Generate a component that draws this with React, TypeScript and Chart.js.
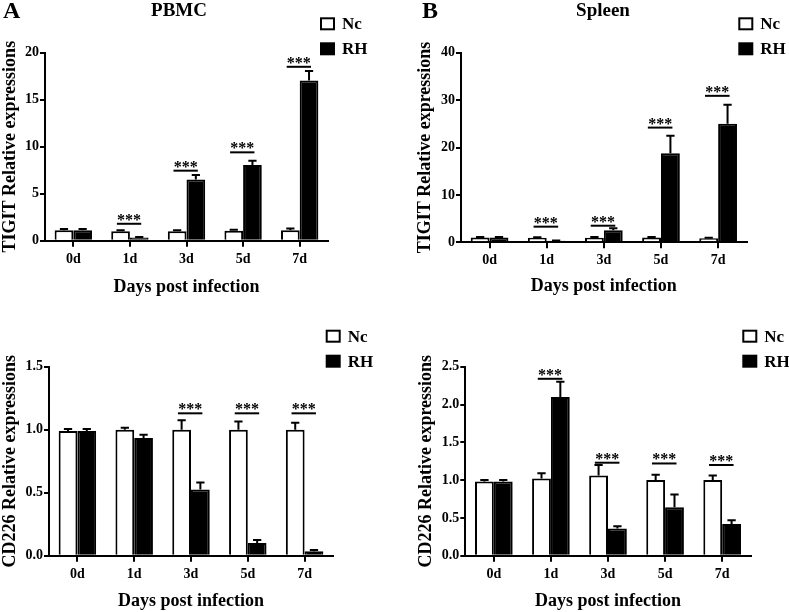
import React, { useEffect, useRef } from "react";
import { Chart, registerables } from "chart.js";

Chart.register(...registerables);

const categories = ["0d", "1d", "3d", "5d", "7d"];
const seriesNames = ["Nc", "RH"];

// Panel A: PBMC TIGIT
const pbmcTigitNc = [1.1, 1.0, 1.0, 1.05, 1.1];
const pbmcTigitNcErr = [0.15, 0.1, 0.1, 0.12, 0.2];
const pbmcTigitRh = [1.1, 0.35, 6.5, 8.05, 17.05];
const pbmcTigitRhErr = [0.15, 0.05, 0.5, 0.45, 1.0];
const pbmcTigitSig = [null, 1.8, 7.45, 9.4, 18.5];
const pbmcTigitTicks = [0, 5, 10, 15, 20];

// Panel B: Spleen TIGIT
const spleenTigitNc = [1.0, 0.95, 0.95, 1.0, 0.85];
const spleenTigitNcErr = [0.1, 0.1, 0.15, 0.1, 0.1];
const spleenTigitRh = [1.0, 0.35, 2.55, 18.8, 25.0];
const spleenTigitRhErr = [0.1, 0.05, 0.4, 3.7, 4.0];
const spleenTigitSig = [null, 3.3, 3.5, 24.2, 30.9];
const spleenTigitTicks = [0, 10, 20, 30, 40];

// Panel C: PBMC CD226
const pbmcCd226Nc = [0.99, 1.0, 1.0, 1.0, 1.0];
const pbmcCd226NcErr = [0.015, 0.015, 0.075, 0.065, 0.055];
const pbmcCd226Rh = [0.99, 0.935, 0.525, 0.1, 0.035];
const pbmcCd226RhErr = [0.015, 0.025, 0.055, 0.025, 0.01];
const pbmcCd226Sig = [null, null, 1.13, 1.13, 1.13];
const pbmcCd226Ticks = [0, 0.5, 1.0, 1.5];

// Panel D: Spleen CD226
const spleenCd226Nc = [0.98, 1.02, 1.06, 1.0, 1.0];
const spleenCd226NcErr = [0.02, 0.07, 0.14, 0.07, 0.06];
const spleenCd226Rh = [0.98, 2.1, 0.36, 0.64, 0.42];
const spleenCd226RhErr = [0.02, 0.2, 0.03, 0.17, 0.05];
const spleenCd226Sig = [null, 2.34, 1.23, 1.22, 1.2];
const spleenCd226Ticks = [0, 0.5, 1.0, 1.5, 2.0, 2.5];

const FONT = "'Liberation Serif', 'Times New Roman', serif";

type PanelDef = {
  left: number; top: number; w: number; h: number;
  area: { l: number; r: number; t: number; b: number };
  padLeft: number; xTitleY: number;
  letter: string; letterX: number; title: string; titleX: number;
  legendX: number; legendY: number;
  yTitle: string; ticks: number[]; decimals: number;
  nc: number[]; ncErr: number[]; rh: number[]; rhErr: number[]; sig: (number | null)[];
};

const panels: PanelDef[] = [
  {
    left: 0, top: 0, w: 390, h: 300, area: { l: 45, r: 328, t: 52.7, b: 240.7 }, padLeft: 0, xTitleY: 287,
    letter: "A", letterX: 3, title: "PBMC", titleX: 179, legendX: 321, legendY: 18.3,
    yTitle: "TIGIT Relative expressions", ticks: pbmcTigitTicks, decimals: 0,
    nc: pbmcTigitNc, ncErr: pbmcTigitNcErr, rh: pbmcTigitRh, rhErr: pbmcTigitRhErr, sig: pbmcTigitSig,
  },
  {
    left: 390, top: 0, w: 399, h: 300, area: { l: 71, r: 356.7, t: 52.7, b: 242.3 }, padLeft: 24.7, xTitleY: 286.7,
    letter: "B", letterX: 32, title: "Spleen", titleX: 213, legendX: 349.3, legendY: 18.3,
    yTitle: "TIGIT Relative expressions", ticks: spleenTigitTicks, decimals: 0,
    nc: spleenTigitNc, ncErr: spleenTigitNcErr, rh: spleenTigitRh, rhErr: spleenTigitRhErr, sig: spleenTigitSig,
  },
  {
    left: 0, top: 300, w: 390, h: 312, area: { l: 49, r: 333, t: 66.7, b: 255.7 }, padLeft: 0, xTitleY: 301.5,
    letter: "", letterX: 0, title: "", titleX: 0, legendX: 326.7, legendY: 30.7,
    yTitle: "CD226 Relative expressions", ticks: pbmcCd226Ticks, decimals: 1,
    nc: pbmcCd226Nc, ncErr: pbmcCd226NcErr, rh: pbmcCd226Rh, rhErr: pbmcCd226RhErr, sig: pbmcCd226Sig,
  },
  {
    left: 390, top: 300, w: 399, h: 312, area: { l: 75.3, r: 360.7, t: 66.7, b: 255.7 }, padLeft: 25.9, xTitleY: 301.5,
    letter: "", letterX: 0, title: "", titleX: 0, legendX: 353.3, legendY: 30.7,
    yTitle: "CD226 Relative expressions", ticks: spleenCd226Ticks, decimals: 1,
    nc: spleenCd226Nc, ncErr: spleenCd226NcErr, rh: spleenCd226Rh, rhErr: spleenCd226RhErr, sig: spleenCd226Sig,
  },
];

const annotPlugin = {
  id: "annot",
  afterDatasetsDraw(chart: any, _args: any, opts: any) {
    const p: PanelDef = opts.panel;
    const ctx = chart.ctx;
    const y = chart.scales.y;
    const x = chart.scales.x;
    ctx.save();
    ctx.strokeStyle = "#000";
    ctx.lineWidth = 2;
    chart.data.datasets.forEach((ds: any, di: number) => {
      const meta = chart.getDatasetMeta(di);
      meta.data.forEach((bar: any, i: number) => {
        const v = ds.data[i];
        const e = ds.errors[i];
        const yTop = y.getPixelForValue(v);
        const yE = y.getPixelForValue(v + e);
        const cap = bar.width * 0.22;
        ctx.beginPath();
        ctx.moveTo(bar.x, yTop);
        ctx.lineTo(bar.x, yE);
        ctx.moveTo(bar.x - cap, yE);
        ctx.lineTo(bar.x + cap, yE);
        ctx.stroke();
      });
    });
    const step = x.getPixelForValue(1) - x.getPixelForValue(0);
    ctx.lineWidth = 2;
    ctx.fillStyle = "#000";
    ctx.font = `bold 16px ${FONT}`;
    ctx.textAlign = "center";
    ctx.textBaseline = "alphabetic";
    p.sig.forEach((s, i) => {
      if (s == null) return;
      const cx = x.getPixelForValue(i);
      const yy = y.getPixelForValue(s);
      ctx.beginPath();
      ctx.moveTo(cx - step * 0.23, yy);
      ctx.lineTo(cx + step * 0.2, yy);
      ctx.stroke();
      ctx.fillText("***", cx - step * 0.015, yy + 1);
    });
    ctx.restore();
  },
  afterDraw(chart: any, _args: any, opts: any) {
    const p: PanelDef = opts.panel;
    const ctx = chart.ctx;
    ctx.save();
    ctx.fillStyle = "#000";
    ctx.textBaseline = "alphabetic";
    if (p.letter) {
      ctx.font = `bold 24px ${FONT}`;
      ctx.textAlign = "left";
      ctx.fillText(p.letter, p.letterX, 18.3);
    }
    if (p.title) {
      ctx.font = `bold 19px ${FONT}`;
      ctx.textAlign = "center";
      ctx.fillText(p.title, p.titleX, 16);
    }
    // legend
    ctx.lineWidth = 2;
    ctx.strokeStyle = "#000";
    ctx.font = `bold 17px ${FONT}`;
    ctx.textAlign = "left";
    ctx.textBaseline = "middle";
    seriesNames.forEach((name, i) => {
      const bx = p.legendX;
      const by = p.legendY + i * 25;
      ctx.fillStyle = i === 0 ? "#fff" : "#000";
      ctx.fillRect(bx, by, 13, 11);
      ctx.strokeRect(bx, by, 13, 11);
      ctx.fillStyle = "#000";
      ctx.fillText(name, bx + 21, by + 6.5);
    });
    ctx.restore();
  },
};

function PanelChart({ p }: { p: PanelDef }) {
  const ref = useRef<HTMLCanvasElement | null>(null);
  useEffect(() => {
    if (!ref.current) return;
    const padBottom = Math.max(0, p.h - (p.xTitleY + 10.8));
    const tickFont = { family: FONT, size: 14, weight: "bold" as const };
    const titleFont = { family: FONT, size: 18, weight: "bold" as const };
    const chart = new Chart(ref.current, {
      type: "bar",
      data: {
        labels: categories,
        datasets: [
          {
            label: seriesNames[0], data: p.nc, errors: p.ncErr,
            backgroundColor: "#fff", borderColor: "#000", borderWidth: 2,
            categoryPercentage: 0.66, barPercentage: 1.0,
          } as any,
          {
            label: seriesNames[1], data: p.rh, errors: p.rhErr,
            backgroundColor: "#000", borderColor: "#000", borderWidth: 2,
            categoryPercentage: 0.66, barPercentage: 1.0,
          } as any,
        ],
      },
      options: {
        responsive: false,
        animation: false,
        devicePixelRatio: 1,
        layout: {
          padding: { left: p.padLeft, top: p.area.t, right: p.w - p.area.r, bottom: padBottom },
        },
        plugins: {
          legend: { display: false },
          tooltip: { enabled: false },
          annot: { panel: p },
        } as any,
        scales: {
          x: {
            offset: true,
            grid: { display: true, drawOnChartArea: false, drawTicks: true, tickLength: 6, color: "#000", lineWidth: 2, offset: false },
            border: { display: true, color: "#000", width: 2 },
            ticks: { color: "#000", font: tickFont, padding: 4, maxRotation: 0 },
            title: { display: true, text: "Days post infection", color: "#000", font: titleFont, padding: 0 },
            afterFit: (scale: any) => { scale.height = p.h - padBottom - p.area.b; },
          },
          y: {
            min: p.ticks[0],
            max: p.ticks[p.ticks.length - 1],
            afterBuildTicks: (scale: any) => { scale.ticks = p.ticks.map((v) => ({ value: v })); },
            grid: { display: true, drawOnChartArea: false, drawTicks: true, tickLength: 5, color: "#000", lineWidth: 2 },
            border: { display: true, color: "#000", width: 2 },
            ticks: {
              color: "#000", font: tickFont, padding: 1,
              callback: (v: any) => Number(v).toFixed(p.decimals),
            },
            title: { display: true, text: p.yTitle, color: "#000", font: titleFont, padding: 0 },
            afterFit: (scale: any) => { scale.width = p.area.l - p.padLeft; },
          },
        },
      },
      plugins: [annotPlugin],
    });
    return () => chart.destroy();
  }, [p]);
  return (
    <div style={{ position: "absolute", left: p.left, top: p.top, width: p.w, height: p.h }}>
      <canvas ref={ref} width={p.w} height={p.h} style={{ width: p.w, height: p.h, display: "block" }} />
    </div>
  );
}

export default function App() {
  return (
    <div style={{ position: "fixed", left: 0, top: 0, width: 789, height: 612, background: "#fff", overflow: "hidden" }}>
      {panels.map((p, i) => (
        <PanelChart key={i} p={p} />
      ))}
    </div>
  );
}
